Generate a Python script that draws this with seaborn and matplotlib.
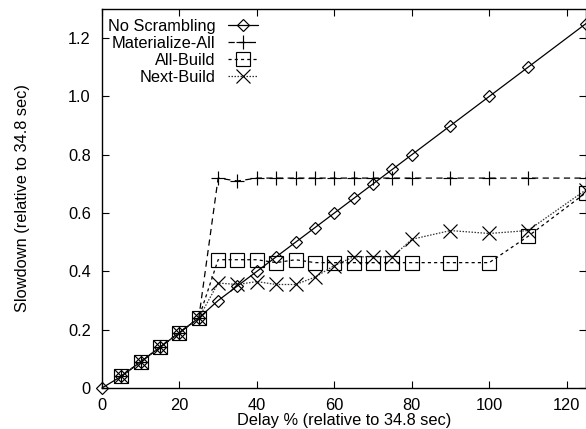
import matplotlib
matplotlib.use("Agg")
import matplotlib.pyplot as plt
import seaborn as sns
import pandas as pd

delay_common = [5, 10, 15, 20, 25]
y_common = [0.04, 0.09, 0.14, 0.19, 0.24]

ns_x = [0] + delay_common + [30, 35, 40, 45, 50, 55, 60, 65, 70, 75, 80, 90, 100, 110, 125]
ns_y = [0.0] + y_common + [0.30, 0.35, 0.40, 0.45, 0.50, 0.55, 0.60, 0.65, 0.70, 0.75, 0.80, 0.90, 1.00, 1.10, 1.25]

tail_x = [30, 35, 40, 45, 50, 55, 60, 65, 70, 75, 80, 90, 100, 110, 125]
ma_y = y_common + [0.72, 0.71, 0.72, 0.72, 0.72, 0.72, 0.72, 0.72, 0.72, 0.72, 0.72, 0.72, 0.72, 0.72, 0.72]
ab_y = y_common + [0.44, 0.44, 0.44, 0.43, 0.44, 0.43, 0.43, 0.43, 0.43, 0.43, 0.43, 0.43, 0.43, 0.52, 0.67]
nb_y = y_common + [0.36, 0.355, 0.365, 0.355, 0.355, 0.38, 0.42, 0.45, 0.45, 0.45, 0.51, 0.54, 0.53, 0.54, 0.68]

x_ticks = [0, 20, 40, 60, 80, 100, 120]
y_ticks = [0, 0.2, 0.4, 0.6, 0.8, 1.0, 1.2]
y_tick_labels = ["0", "0.2", "0.4", "0.6", "0.8", "1.0", "1.2"]

sns.set_theme(style="ticks")
plt.rcParams['font.family'] = ['Liberation Sans', 'DejaVu Sans']
plt.rcParams['text.color'] = 'black'
plt.rcParams['axes.labelcolor'] = 'black'
plt.rcParams['xtick.color'] = 'black'
plt.rcParams['ytick.color'] = 'black'

FS = 11.8

fig = plt.figure(figsize=(5.86, 4.29), dpi=100)
ax = fig.add_axes([0.174, 0.0956, 0.826, 0.8834])

series = [
    ("No Scrambling", ns_x, ns_y, "D", 6.3, "-", "black"),
    ("Materialize-All", delay_common + tail_x, ma_y, "+", 10, (0, (5, 3.5)), "black"),
    ("All-Build", delay_common + tail_x, ab_y, "s", 9.5, (0, (2.5, 2.5)), "black"),
    ("Next-Build", delay_common + tail_x, nb_y, "x", 9.5, (0, (1.2, 1.2)), "#333333"),
]

for name, xs, ys, mk, ms, ls, col in series:
    df = pd.DataFrame({"x": xs, "y": ys})
    sns.lineplot(data=df, x="x", y="y", ax=ax, label=name, color=col,
                 marker=mk, markersize=ms, markerfacecolor="none",
                 markeredgecolor="black", markeredgewidth=0.85,
                 linestyle=ls, linewidth=0.9, clip_on=False)

ax.set_xlim(0, 125)
ax.set_ylim(0, 1.3)
ax.set_xticks(x_ticks)
ax.set_yticks(y_ticks)
ax.set_yticklabels(y_tick_labels)
ax.tick_params(axis="x", which="both", direction="in", top=True,
               length=5, width=0.8, labelsize=FS, pad=7.5, colors="black",
               labelcolor="black")
ax.tick_params(axis="y", which="both", direction="in", right=True,
               length=5, width=0.8, labelsize=FS, pad=8.0, colors="black",
               labelcolor="black")
for s in ax.spines.values():
    s.set_visible(True)
    s.set_linewidth(1.0)
    s.set_color("black")

ax.set_xlabel("Delay % (relative to 34.8 sec)", fontsize=FS, labelpad=0.0, color="black")
ax.set_ylabel("Slowdown (relative to 34.8 sec)", fontsize=FS, labelpad=27, color="black")

leg = ax.legend(loc="upper left", bbox_to_anchor=(0.004, 0.985), frameon=False,
                markerfirst=False, fontsize=FS, handlelength=1.85,
                labelspacing=0.12, handletextpad=0.73, borderpad=0.15,
                borderaxespad=0.1)
for t in leg.get_texts():
    t.set_color("black")

fig.savefig("out.png", dpi=100)
